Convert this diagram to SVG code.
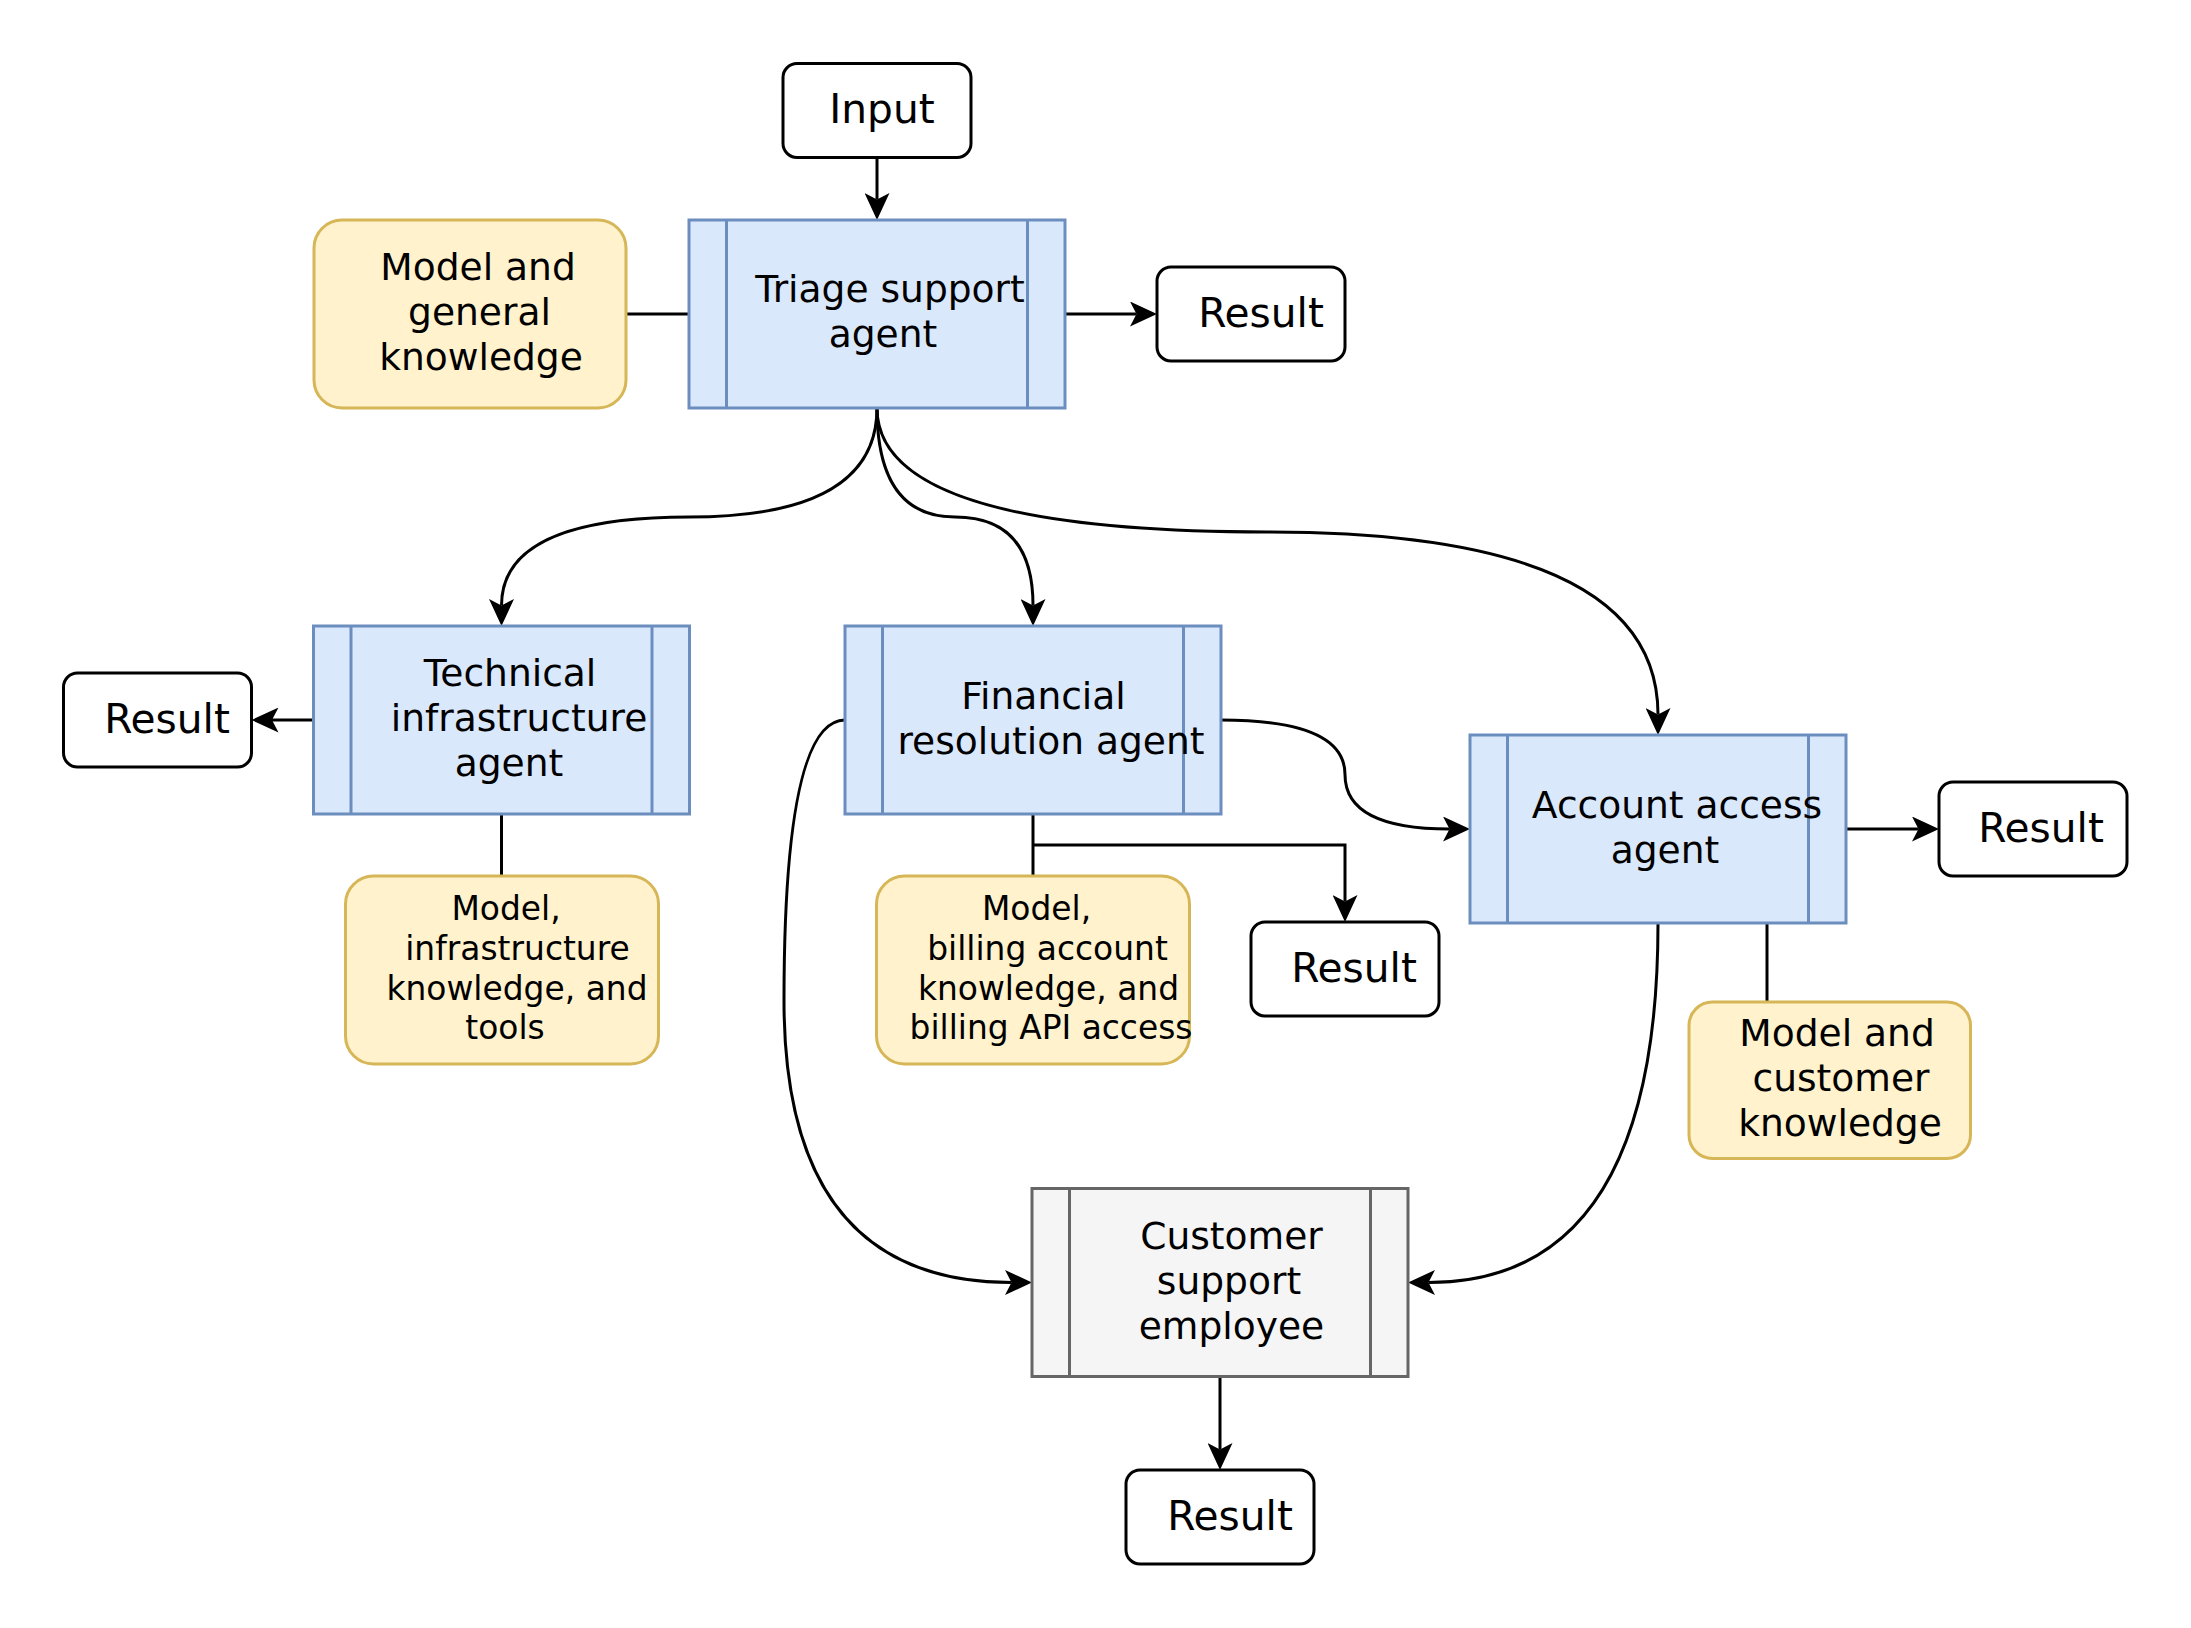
<svg xmlns="http://www.w3.org/2000/svg" width="2191" height="1628" viewBox="0 0 2191 1628">
<style>
text{font-family:"DejaVu Sans","Liberation Sans",sans-serif;fill:#000;text-anchor:middle}
.res{fill:#fff;stroke:#000;stroke-width:3}
.agent{fill:#dae8fc;stroke:#6c8ebf;stroke-width:3}
.human{fill:#f5f5f5;stroke:#666;stroke-width:3}
.know{fill:#fff2cc;stroke:#d6b656;stroke-width:3}
.t40{font-size:40.7px}
.t37{font-size:37.6px}
.t33{font-size:32.9px}
.edge{fill:none;stroke:#000;stroke-width:3}
</style>
<defs>
<marker id="arr" markerUnits="userSpaceOnUse" markerWidth="27" markerHeight="25" viewBox="0 0 27 25" refX="6.5" refY="12.5" orient="auto">
<path d="M0,0 L27,12.5 L0,25 L6.5,12.5 Z" fill="#000"/>
</marker>
</defs>
<rect width="2191" height="1628" fill="#fff"/>
<g id="connectors">
<path class="edge" d="M877,157.5 L877,199.5" marker-end="url(#arr)"/>
<path class="edge" d="M626,314 L689,314"/>
<path class="edge" d="M1065,314 L1136.5,314" marker-end="url(#arr)"/>
<path class="edge" d="M877,408 Q877,517 689,517 Q501.5,517 501.5,605.5" marker-end="url(#arr)"/>
<path class="edge" d="M877,408 Q877,517 955,517 Q1033,517 1033,605.5" marker-end="url(#arr)"/>
<path class="edge" d="M877,408 Q877,532 1267.5,532 Q1658,532 1658,714.5" marker-end="url(#arr)"/>
<path class="edge" d="M313.5,720 L272,720" marker-end="url(#arr)"/>
<path class="edge" d="M501.5,814 L501.5,876"/>
<path class="edge" d="M1033,814 L1033,876"/>
<path class="edge" d="M1033,845 L1345,845 L1345,901.5" marker-end="url(#arr)"/>
<path class="edge" d="M1221,720 Q1345,720 1345,774.5 Q1345,829 1449.5,829" marker-end="url(#arr)"/>
<path class="edge" d="M845,720 Q784,720 784,1001 Q784,1282.5 1011.5,1282.5" marker-end="url(#arr)"/>
<path class="edge" d="M1846,829 L1918.5,829" marker-end="url(#arr)"/>
<path class="edge" d="M1767,923 L1767,1002"/>
<path class="edge" d="M1658,923 Q1658,1282.5 1428.5,1282.5" marker-end="url(#arr)"/>
<path class="edge" d="M1220,1376.5 L1220,1449.5" marker-end="url(#arr)"/>
</g>
<g id="input">
<rect class="res" x="783" y="63.5" width="188" height="94" rx="14"/>
<text class="t40" x="882" y="122.5">Input</text>
</g>
<g id="triage">
<rect class="agent" x="689" y="220" width="376" height="188"/>
<path class="agent" d="M726.5,220 V408 M1027.5,220 V408"/>
<text class="t37" x="890" y="302">Triage support</text>
<text class="t37" x="883" y="347">agent</text>
</g>
<g id="model-general">
<rect class="know" x="314" y="220" width="312" height="188" rx="28"/>
<text class="t37" x="478" y="280">Model and</text>
<text class="t37" x="479.5" y="325">general</text>
<text class="t37" x="481" y="370">knowledge</text>
</g>
<g id="result-triage">
<rect class="res" x="1157" y="267" width="188" height="94" rx="14"/>
<text class="t40" x="1261" y="327">Result</text>
</g>
<g id="technical">
<rect class="agent" x="313.5" y="626" width="376" height="188"/>
<path class="agent" d="M351,626 V814 M652,626 V814"/>
<text class="t37" x="510" y="686">Technical</text>
<text class="t37" x="519" y="731">infrastructure</text>
<text class="t37" x="509" y="776">agent</text>
</g>
<g id="result-technical">
<rect class="res" x="63.5" y="673" width="188" height="94" rx="14"/>
<text class="t40" x="167" y="733">Result</text>
</g>
<g id="model-infra">
<rect class="know" x="345.5" y="876" width="313" height="188" rx="28"/>
<text class="t33" x="506" y="920">Model,</text>
<text class="t33" x="517.5" y="960">infrastructure</text>
<text class="t33" x="517" y="1000">knowledge, and</text>
<text class="t33" x="505" y="1039">tools</text>
</g>
<g id="financial">
<rect class="agent" x="845" y="626" width="376" height="188"/>
<path class="agent" d="M882.5,626 V814 M1183.5,626 V814"/>
<text class="t37" x="1043.5" y="708.5">Financial</text>
<text class="t37" x="1051" y="753.5">resolution agent</text>
</g>
<g id="model-billing">
<rect class="know" x="876.5" y="876" width="313" height="188" rx="28"/>
<text class="t33" x="1036.5" y="919.5">Model,</text>
<text class="t33" x="1047.5" y="959.5">billing account</text>
<text class="t33" x="1048.5" y="999.5">knowledge, and</text>
<text class="t33" x="1051" y="1039">billing API access</text>
</g>
<g id="result-financial">
<rect class="res" x="1251" y="922" width="188" height="94" rx="14"/>
<text class="t40" x="1354" y="982">Result</text>
</g>
<g id="account">
<rect class="agent" x="1470" y="735" width="376" height="188"/>
<path class="agent" d="M1507.5,735 V923 M1808.5,735 V923"/>
<text class="t37" x="1677" y="817.5">Account access</text>
<text class="t37" x="1665" y="862.5">agent</text>
</g>
<g id="result-account">
<rect class="res" x="1939" y="782" width="188" height="94" rx="14"/>
<text class="t40" x="2041" y="842">Result</text>
</g>
<g id="model-customer">
<rect class="know" x="1689" y="1002" width="281.5" height="156.5" rx="23.5"/>
<text class="t37" x="1837" y="1045.5">Model and</text>
<text class="t37" x="1841" y="1090.5">customer</text>
<text class="t37" x="1840" y="1135.5">knowledge</text>
</g>
<g id="customer-employee">
<rect class="human" x="1032" y="1188.5" width="376" height="188"/>
<path class="human" d="M1069.5,1188.5 V1376.5 M1370.5,1188.5 V1376.5"/>
<text class="t37" x="1231.5" y="1248.5">Customer</text>
<text class="t37" x="1229" y="1293.5">support</text>
<text class="t37" x="1231.5" y="1338.5">employee</text>
</g>
<g id="result-employee">
<rect class="res" x="1126" y="1470" width="188" height="94" rx="14"/>
<text class="t40" x="1230" y="1530">Result</text>
</g>
</svg>
